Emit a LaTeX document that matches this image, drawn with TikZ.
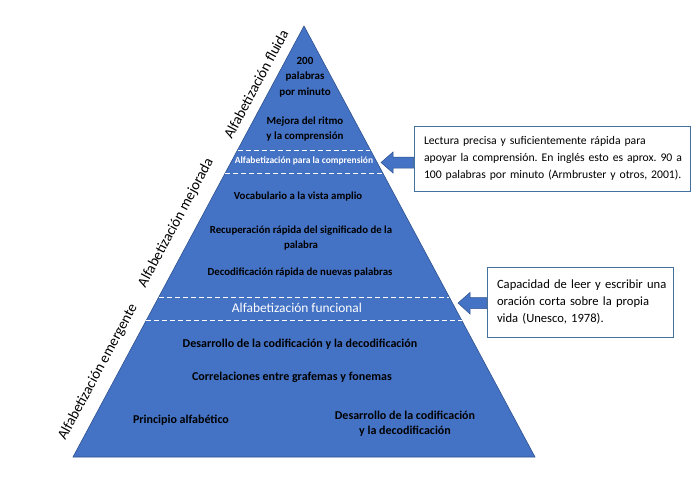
\documentclass[tikz,border=0pt]{standalone}
\usepackage{fontspec}
\setmainfont{Carlito}
\usetikzlibrary{calc}
\definecolor{pyr}{HTML}{4472C4}
\definecolor{pyredge}{HTML}{2F528F}
\definecolor{boxedge}{HTML}{41719C}
\frenchspacing
\begin{document}
\begin{tikzpicture}[x=1pt,y=-1pt,
  intext/.style={font=\bfseries\fontsize{10.8}{15}\selectfont, align=center, inner sep=0pt, text=black},
  bigtext/.style={font=\bfseries\fontsize{12}{15}\selectfont, align=center, inner sep=0pt, text=black},
  whitetext/.style={font=\fontsize{13.4}{15}\selectfont, inner sep=0pt, text=white},
  whitebold/.style={font=\bfseries\fontsize{9.5}{11}\selectfont, inner sep=0pt, text=white},
  sidelabel/.style={font=\fontsize{14.7}{16}\selectfont, inner sep=0pt, text=black, rotate=61.8},
  bandline/.style={white, line width=0.8pt, dash pattern=on 5pt off 3pt},
  callout/.style={draw=boxedge, line width=0.9pt, fill=white, align=left, inner xsep=10pt,
    font=\fontsize{12.6}{17}\selectfont, text=black},
  blockarrow/.style={fill=pyr, draw=pyredge, line width=0.5pt}
]
\useasboundingbox (0,0) rectangle (699,488);
\fill[white] (0,0) rectangle (699,488);
\coordinate (apex) at (304,26);
\coordinate (bl) at (73,457);
\coordinate (br) at (535,457);
\filldraw[fill=pyr, draw=pyredge, line width=0.6pt] (apex) -- (bl) -- (br) -- cycle;

% band lines
\draw[bandline] ($(apex)!0.2877!(bl)$) -- ($(apex)!0.2877!(br)$);
\draw[bandline] ($(apex)!0.3411!(bl)$) -- ($(apex)!0.3411!(br)$);
\draw[bandline] ($(apex)!0.6288!(bl)$) -- ($(apex)!0.6288!(br)$);
\draw[bandline] ($(apex)!0.6821!(bl)$) -- ($(apex)!0.6821!(br)$);

% texts inside pyramid
\node[intext, font=\bfseries\fontsize{11}{15.5}\selectfont] (t200) at (305,77) {200\\palabras\\por minuto};
\node[intext, font=\bfseries\fontsize{10.9}{15}\selectfont] (tmejora) at (305,129.5) {Mejora del ritmo\\y la comprensión};
\node[whitebold] (tcomp) at (304,161) {Alfabetización para la comprensión};
\node[intext] (tvoc) at (298,197) {Vocabulario a la vista amplio};
\node[intext] (trec) at (301,238.5) {Recuperación rápida del significado de la\\palabra};
\node[intext] (tdec) at (300,273) {Decodificación rápida de nuevas palabras};
\node[whitetext] (tfun) at (297,308) {Alfabetización funcional};
\node[bigtext] (tdes) at (300,344) {Desarrollo de la codificación y la decodificación};
\node[bigtext] (tcor) at (292,377) {Correlaciones entre grafemas y fonemas};
\node[bigtext] (tpri) at (181,420) {Principio alfabético};
\node[bigtext] (tdes2) at (405,423.5) {Desarrollo de la codificación\\y la decodificación};

% side labels
\node[sidelabel] (sfl) at (256,84) {Alfabetización fluida};
\node[sidelabel] (sme) at (176,223) {Alfabetización mejorada};
\node[sidelabel] (sem) at (98,372) {Alfabetización emergente};

% callouts
\node[callout, font=\fontsize{11.7}{17}\selectfont, text width=256pt, minimum height=65pt] (c1) at (552,158.5)
  {\mbox{Lectura precisa y suficientemente rápida para}\\\mbox{apoyar la comprensión. En inglés esto es aprox. 90 a}\\\mbox{100 palabras por minuto (Armbruster y otros, 2001).}};
\node[callout, text width=166pt, minimum height=70pt] (c2) at (580,302)
  {\mbox{Capacidad de leer y escribir una}\\\mbox{oración corta sobre la propia}\\\mbox{vida (Unesco, 1978).}};

% block arrows
\filldraw[blockarrow] (c1.west |- 0,157) -- (393,157) -- (393,152) -- (381,162.5) -- (393,173) -- (393,168) -- (c1.west |- 0,168) -- cycle;
\filldraw[blockarrow] (c2.west |- 0,297.5) -- (470,297.5) -- (470,292.5) -- (458,303) -- (470,314) -- (470,308.5) -- (c2.west |- 0,308.5) -- cycle;
\end{tikzpicture}
\end{document}
